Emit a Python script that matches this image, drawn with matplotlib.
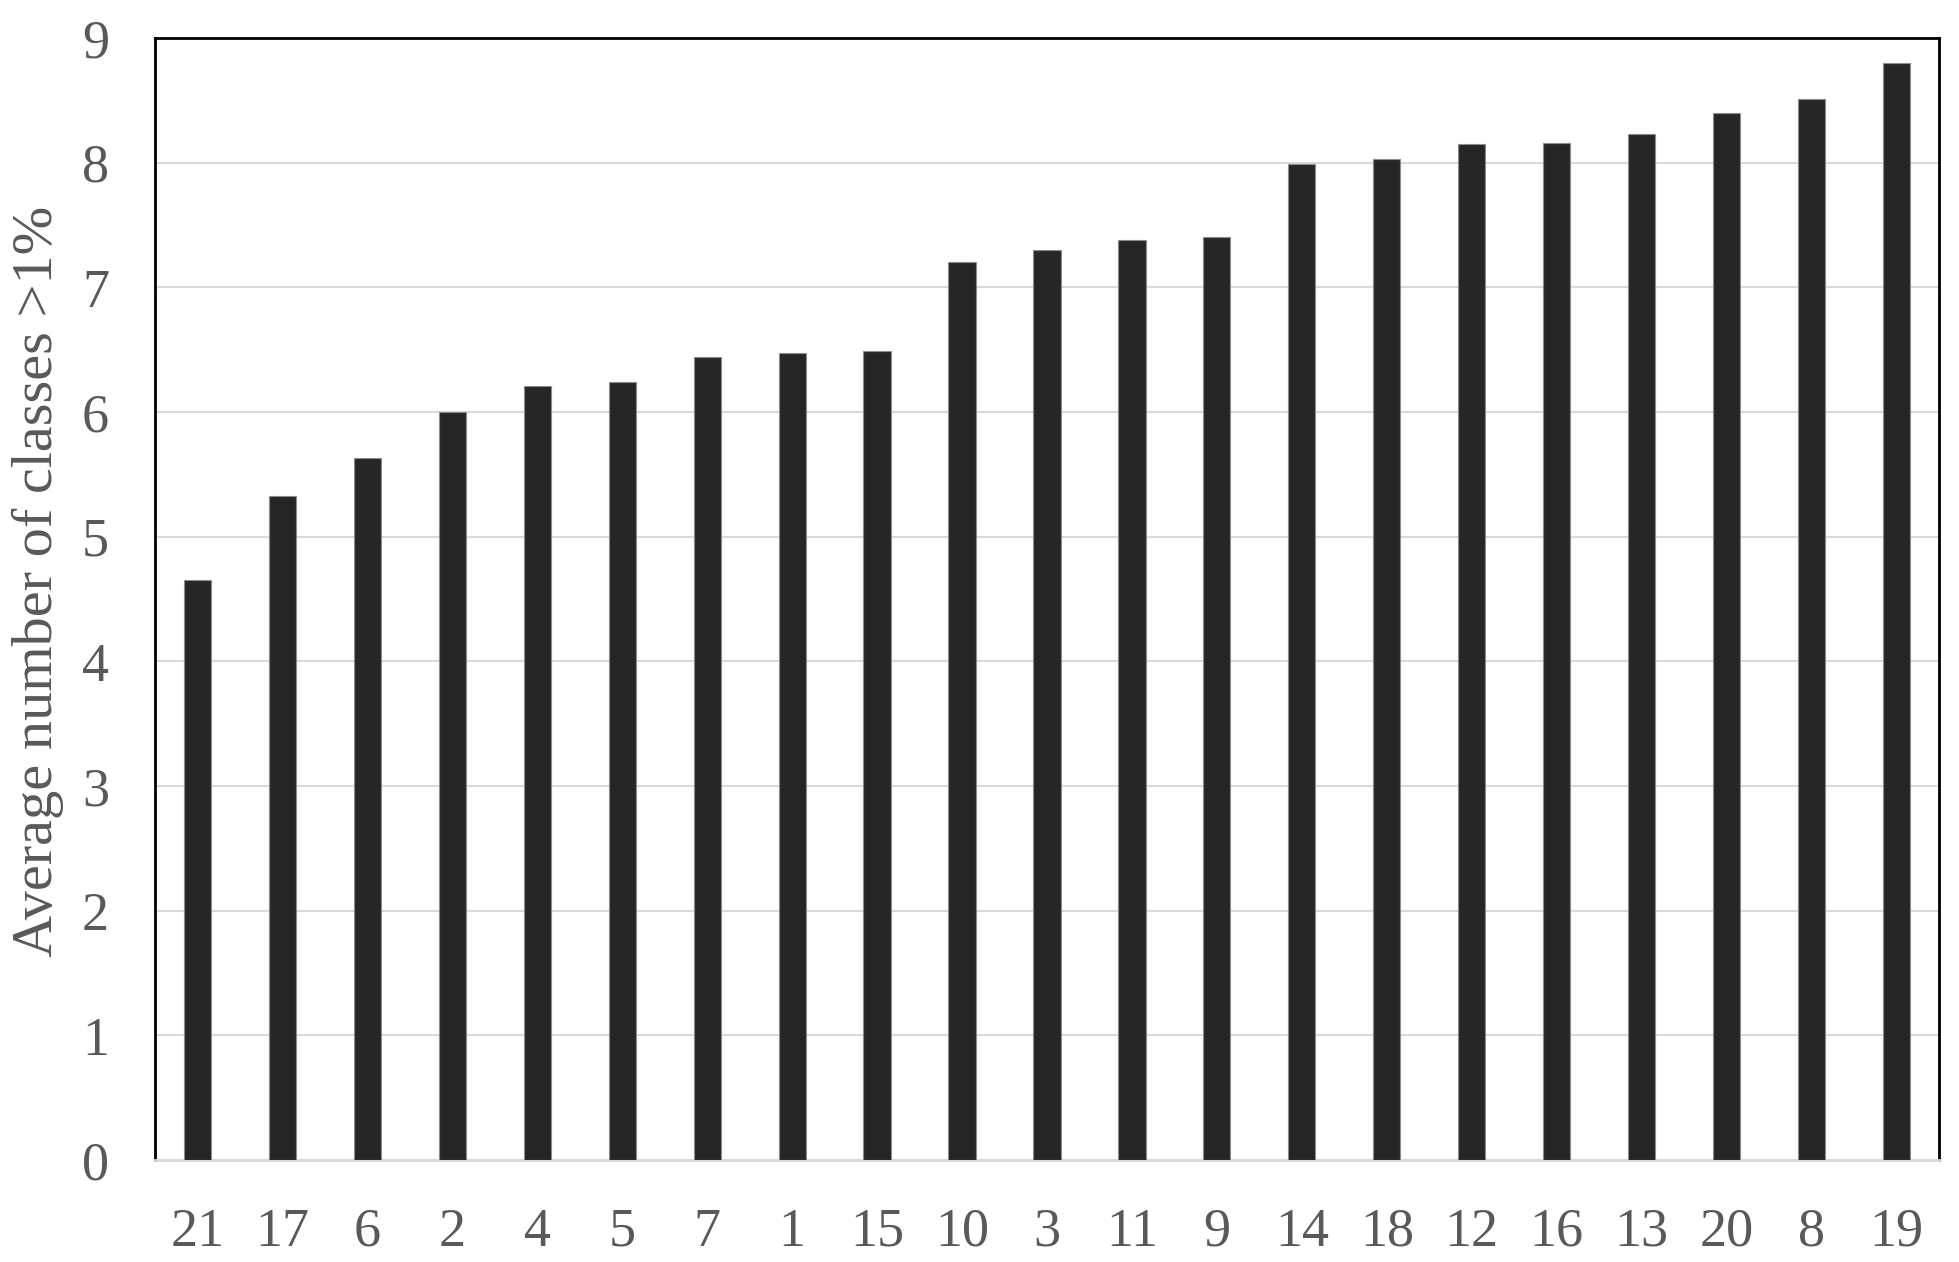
import matplotlib.pyplot as plt
import numpy as np

# category order as shown on the x axis
sites = ["21", "17", "6", "2", "4", "5", "7", "1", "15", "10", "3",
         "11", "9", "14", "18", "12", "16", "13", "20", "8", "19"]
avg_classes = [4.65, 5.33, 5.63, 6.00, 6.21, 6.24, 6.44, 6.47, 6.49, 7.20, 7.30,
               7.38, 7.40, 7.99, 8.03, 8.15, 8.16, 8.23, 8.40, 8.51, 8.80]
yticks = [0, 1, 2, 3, 4, 5, 6, 7, 8, 9]

plt.rcParams['font.family'] = ['Liberation Serif', 'DejaVu Serif']
text_col = '#595959'

fig = plt.figure(figsize=(19.59, 12.62), dpi=100)
ax = fig.add_axes([0.0791, 0.0808, 0.9107, 0.8891])

x = np.arange(len(sites))
ax.bar(x, avg_classes, width=0.32, color='#262626', edgecolor='#8c8c8c',
       linewidth=0.8, zorder=3)

ax.set_xlim(-0.5, len(sites) - 0.5)
ax.set_ylim(0, 9)
ax.set_yticks(yticks)
ax.set_xticks(x)
ax.set_xticklabels(sites)

ax.yaxis.grid(True, color='#d9d9d9', linewidth=1.5, zorder=0)
ax.set_axisbelow(True)

for s in ['left', 'top', 'right']:
    ax.spines[s].set_color('black')
    ax.spines[s].set_linewidth(2)
ax.spines['bottom'].set_color('#d9d9d9')
ax.spines['bottom'].set_linewidth(2)

ax.tick_params(axis='both', length=0, labelsize=39, labelcolor=text_col)
ax.tick_params(axis='y', pad=33)
ax.tick_params(axis='x', pad=34)

ax.set_ylabel("Average number of classes >1%", fontsize=42, color=text_col)
ax.yaxis.set_label_coords(-0.051, 0.516)

plt.savefig("out.png", dpi=100)
